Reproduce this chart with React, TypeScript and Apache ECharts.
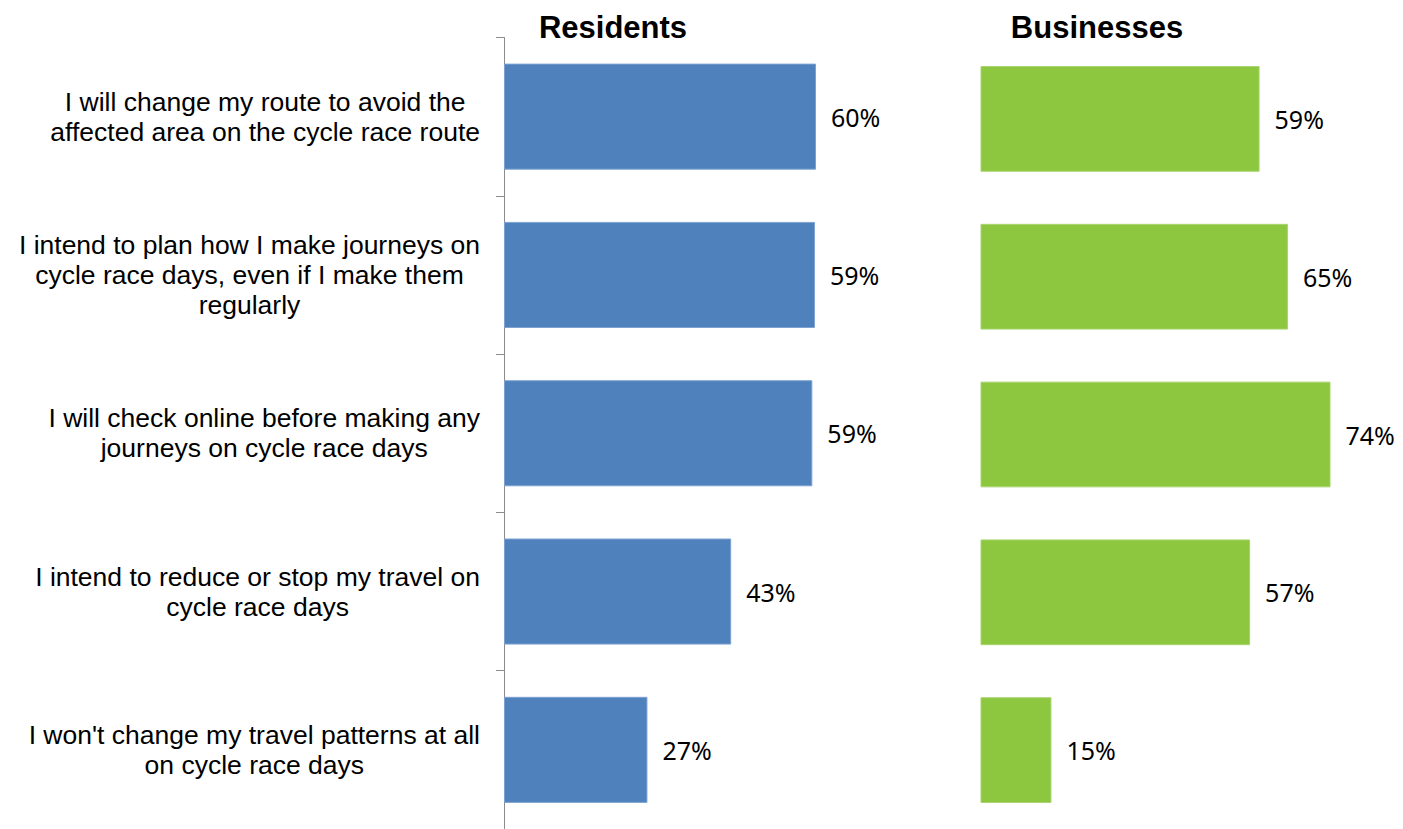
import React, { useEffect, useRef } from "react";
import * as echarts from "echarts";

const categories = [
  "I will change my route to avoid the\naffected area on the cycle race route",
  "I intend to plan how I make journeys on\ncycle race days, even if I make them\nregularly",
  "I will check online before making any\njourneys on cycle race days",
  "I intend to reduce or stop my travel on\ncycle race days",
  "I won't change my travel patterns at all\non cycle race days",
];
const residents = [59.6, 59.4, 58.9, 43.4, 27.4];
const businesses = [59, 65, 74, 57, 15];
const panelTitles = ["Residents", "Businesses"];

export default function App() {
  const ref = useRef<HTMLDivElement>(null);
  useEffect(() => {
    if (!ref.current) return;
    const chart = echarts.init(ref.current, null, { renderer: "svg" });
    const labelFont = "'Liberation Sans', Arial, sans-serif";
    const valueLabel = {
      show: true,
      position: "right",
      distance: 15,
      color: "#000",
      fontSize: 25,
      fontFamily: "'Noto Sans', 'Open Sans', sans-serif",
      formatter: (p: any) => Math.round(p.value) + "%",
    };
    const titleStyle = { fontSize: 31, fontWeight: "bold", color: "#000", fontFamily: labelFont };
    chart.setOption({
      animation: false,
      backgroundColor: "#fff",
      title: [
        { text: panelTitles[0], left: 608, top: 7, textAlign: "center", textStyle: titleStyle },
        { text: panelTitles[1], left: 1092, top: 7, textAlign: "center", textStyle: titleStyle },
      ],
      grid: [
        { left: 504, top: 37.5, width: 418.8, height: 794 },
        { left: 980.5, top: 40, width: 378.4, height: 794 },
      ],
      xAxis: [
        { type: "value", gridIndex: 0, min: 0, max: 80, show: false },
        { type: "value", gridIndex: 1, min: 0, max: 80, show: false },
      ],
      yAxis: [
        {
          type: "category",
          gridIndex: 0,
          inverse: true,
          data: categories,
          axisLine: { show: true, lineStyle: { color: "#8c8c8c", width: 1 } },
          axisTick: { show: true, length: 8, lineStyle: { color: "#8c8c8c" } },
          axisLabel: {
            margin: 24,
            align: "right",
            color: "#000",
            fontSize: 26.5,
            fontFamily: labelFont,
            lineHeight: 30,
            formatter: (v: string) =>
              v
                .split("\n")
                .map((l) => "{c|" + l + "}")
                .join("\n"),
            rich: {
              c: { align: "center", fontSize: 26.5, lineHeight: 30, fontFamily: labelFont, color: "#000" },
            },
          },
          splitLine: { show: false },
        },
        {
          type: "category",
          gridIndex: 1,
          inverse: true,
          data: categories,
          show: false,
        },
      ],
      series: [
        {
          type: "bar",
          xAxisIndex: 0,
          yAxisIndex: 0,
          data: residents,
          barCategoryGap: "33%",
          itemStyle: { color: "#4F81BD", borderColor: "#7DA2D1", borderWidth: 1 },
          label: valueLabel,
        },
        {
          type: "bar",
          xAxisIndex: 1,
          yAxisIndex: 1,
          data: businesses,
          barCategoryGap: "33%",
          itemStyle: { color: "#8DC63F", borderColor: "#A9D46F", borderWidth: 1 },
          label: valueLabel,
        },
      ],
    });
    return () => chart.dispose();
  }, []);
  return (
    <div
      ref={ref}
      style={{ position: "absolute", left: 0, top: 0, width: 1403, height: 829 }}
    />
  );
}
